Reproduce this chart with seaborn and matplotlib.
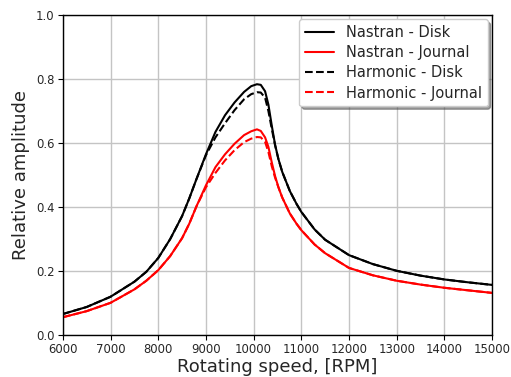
import matplotlib
matplotlib.use("Agg")
import matplotlib.pyplot as plt
import seaborn as sns
import pandas as pd

rpm = [6000, 6500, 7000, 7500, 7750, 8000, 8250, 8500, 8650, 8800, 9000, 9200, 9400,
       9600, 9800, 9950, 10070, 10150, 10240, 10310, 10380, 10450, 10520, 10600,
       10760, 10900, 11000, 11280, 11500, 12000, 12500, 13000, 13500, 14000, 14500, 15000]

nastran_disk = [0.066, 0.088, 0.120, 0.167, 0.198, 0.241, 0.300, 0.372, 0.427, 0.487,
                0.565, 0.635, 0.687, 0.727, 0.760, 0.778, 0.784, 0.782, 0.762, 0.720,
                0.655, 0.595, 0.550, 0.510, 0.450, 0.410, 0.385, 0.330, 0.298, 0.250,
                0.222, 0.201, 0.186, 0.174, 0.165, 0.157]

harmonic_disk = [0.066, 0.088, 0.120, 0.167, 0.198, 0.241, 0.300, 0.372, 0.427, 0.487,
                 0.562, 0.618, 0.662, 0.703, 0.737, 0.753, 0.759, 0.758, 0.742, 0.700,
                 0.645, 0.593, 0.550, 0.510, 0.450, 0.410, 0.385, 0.330, 0.298, 0.250,
                 0.222, 0.201, 0.186, 0.174, 0.165, 0.157]

nastran_journal = [0.056, 0.075, 0.101, 0.143, 0.170, 0.203, 0.247, 0.303, 0.348, 0.402,
                   0.468, 0.525, 0.565, 0.598, 0.625, 0.637, 0.643, 0.638, 0.618, 0.588,
                   0.540, 0.497, 0.462, 0.430, 0.380, 0.348, 0.328, 0.283, 0.256, 0.210,
                   0.187, 0.170, 0.158, 0.148, 0.140, 0.132]

harmonic_journal = [0.056, 0.075, 0.101, 0.143, 0.170, 0.203, 0.247, 0.303, 0.348, 0.402,
                    0.462, 0.507, 0.546, 0.578, 0.603, 0.614, 0.619, 0.618, 0.604, 0.572,
                    0.528, 0.492, 0.462, 0.430, 0.380, 0.348, 0.328, 0.283, 0.256, 0.210,
                    0.187, 0.170, 0.158, 0.148, 0.140, 0.132]

series = [
    ("Nastran - Disk", nastran_disk, "black", "-"),
    ("Nastran - Journal", nastran_journal, "red", "-"),
    ("Harmonic - Disk", harmonic_disk, "black", "--"),
    ("Harmonic - Journal", harmonic_journal, "red", "--"),
]

sns.set_style("ticks")
plt.rcParams["font.family"] = ["DejaVu Sans"]

fig = plt.figure(figsize=(5.11, 3.77), dpi=100)
ax = fig.add_axes([0.123, 0.111, 0.840, 0.849])

for name, vals, col, ls in series:
    df = pd.DataFrame({"rpm": rpm, "amp": vals})
    sns.lineplot(data=df, x="rpm", y="amp", ax=ax, color=col, linestyle=ls,
                 linewidth=1.5, label=name, sort=False)

ax.set_xlim(6000, 15000)
ax.set_ylim(0, 1.0)
ax.set_xticks(range(6000, 15001, 1000))
ax.set_yticks([0.0, 0.2, 0.4, 0.6, 0.8, 1.0])
ax.grid(True, color="#c4c4c4", linewidth=1.0)
ax.tick_params(labelsize=8.4, direction="out", length=3.5, width=0.8, color="black", pad=2.5)
for s in ax.spines.values():
    s.set_color("black")
    s.set_linewidth(1.0)
ax.set_xlabel("Rotating speed, [RPM]", fontsize=13, labelpad=1)
ax.set_ylabel("Relative amplitude", fontsize=13, labelpad=4)
leg = ax.legend(loc="upper right", fontsize=10.5, shadow=True, frameon=True,
                fancybox=True, framealpha=1.0, borderaxespad=0.3, labelspacing=0.35)
leg.get_frame().set_edgecolor("#cccccc")

fig.savefig("out.png", dpi=100)
